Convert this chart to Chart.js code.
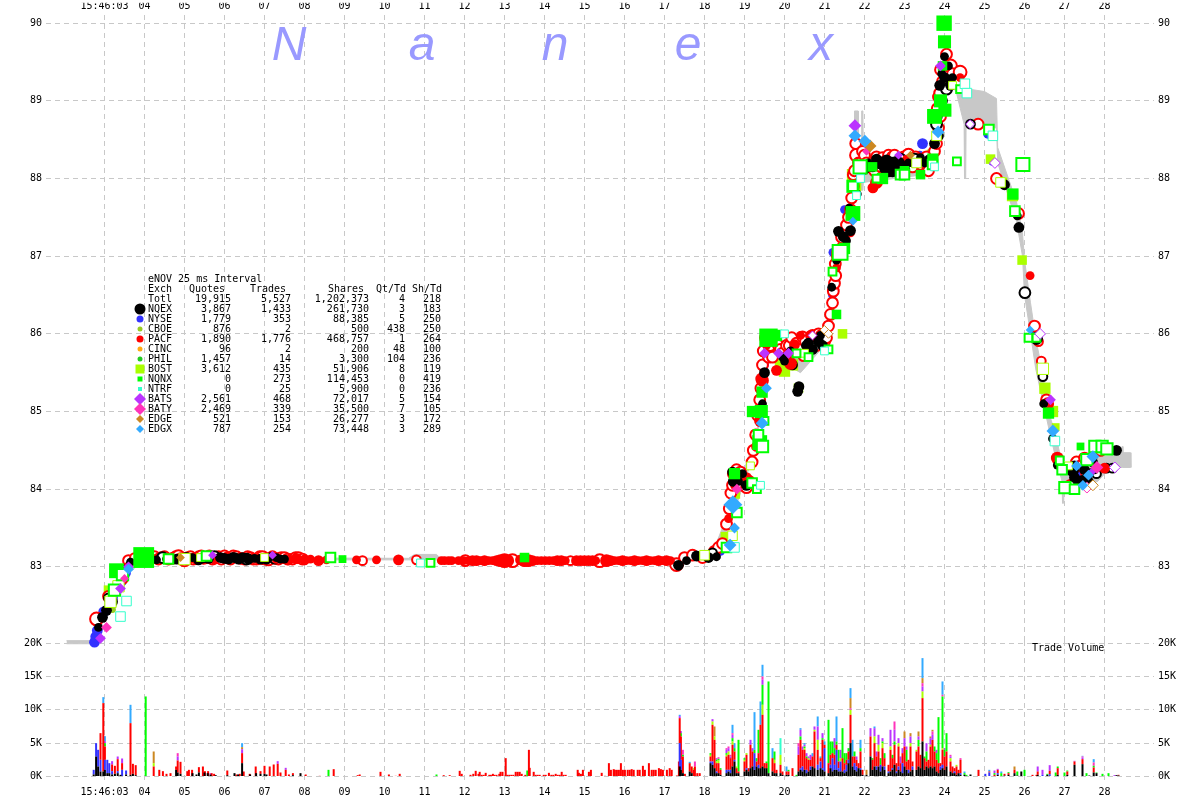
<!DOCTYPE html>
<html>
<head>
<meta charset="utf-8">
<style>
  html, body { margin: 0; padding: 0; background: #fff; }
  #wrap { position: relative; width: 1200px; height: 800px; overflow: hidden; }
  canvas { position: absolute; left: 0; top: 0; }
</style>
<script src="https://cdn.jsdelivr.net/npm/chart.js@4/dist/chart.umd.js"></script>
</head>
<body>
<div id="wrap">
  <canvas id="volumeChart" width="1200" height="800"></canvas>
  <canvas id="priceChart" width="1200" height="800"></canvas>
</div>
<script>
// axis ticks
const timeTicks = [3,4,5,6,7,8,9,10,11,12,13,14,15,16,17,18,19,20,21,22,23,24,25,26,27,28];
const timeLabels = ['15:46:03','04','05','06','07','08','09','10','11','12','13','14','15','16','17','18','19','20','21','22','23','24','25','26','27','28'];
const priceTicks = [83,84,85,86,87,88,89,90];
const volumeTicks = [0,5000,10000,15000,20000];

// summary table
const tableTitle = 'eNOV 25 ms Interval';
const tableHeads = ['Exch','Quotes','Trades','Shares','Qt/Td','Sh/Td'];
const exchNames = ['Totl','NQEX','NYSE','CBOE','PACF','CINC','PHIL','BOST','NQNX','NTRF','BATS','BATY','EDGE','EDGX'];
const exchQuotes = ['19,915','3,867','1,779','876','1,890','96','1,457','3,612','0','0','2,561','2,469','521','787'];
const exchTrades = ['5,527','1,433','353','2','1,776','2','14','435','273','25','468','339','153','254'];
const exchShares = ['1,202,373','261,730','88,385','500','468,757','200','3,300','51,906','114,453','5,900','72,017','35,500','26,277','73,448'];
const exchQtTd = ['4','3','5','438','1','48','104','8','0','0','5','7','3','3'];
const exchShTd = ['218','183','250','250','264','100','236','119','419','236','154','105','172','289'];

// NBBO band, [second, price]
const nbboAsk = [[2.05,82.05],[2.72,82.05],[3.0,82.4],[3.6,82.98],[4.0,83.12],[10.6,83.11],[10.75,83.16],[11.3,83.16],[11.4,83.11],[17.3,83.11],[18.2,83.18],[18.6,83.7],[19.3,84.7],[19.5,85.6],[19.55,85.9],[20.4,85.9],[21.0,86.0],[21.4,87.1],[21.74,88.1],[21.75,88.87],[21.84,88.87],[21.85,88.3],[21.92,88.3],[21.93,88.87],[21.96,88.87],[21.97,88.3],[23.5,88.3],[23.8,88.5],[24.0,89.6],[24.3,89.2],[24.5,89.16],[25.0,89.12],[25.3,89.03],[25.33,88.4],[25.8,87.7],[25.95,87.3],[26.0,86.95],[26.15,86.4],[26.28,85.95],[26.45,85.5],[26.6,85.0],[26.78,84.7],[26.95,84.3],[27.28,84.25],[27.83,84.42],[28.15,84.43],[28.45,84.55],[28.46,84.47],[28.65,84.47],[28.66,84.28]];
const nbboBid = [[2.05,82.01],[2.72,82.01],[3.0,82.35],[3.6,82.92],[4.0,83.09],[10.6,83.09],[10.75,83.09],[11.3,83.09],[11.4,83.09],[17.3,83.09],[18.2,83.14],[18.6,83.5],[19.3,84.55],[19.5,85.45],[19.55,85.75],[20.4,85.5],[21.0,85.85],[21.4,87.0],[21.74,87.95],[21.84,87.95],[21.85,87.95],[21.92,87.95],[21.93,87.85],[21.96,87.85],[21.97,87.95],[23.5,88.05],[23.8,88.4],[24.0,89.4],[24.3,89.1],[24.49,88.7],[24.5,88.0],[24.53,88.0],[24.54,88.7],[25.3,88.65],[25.33,88.2],[25.8,87.45],[25.95,87.0],[26.0,86.5],[26.15,86.0],[26.28,85.55],[26.45,85.15],[26.6,84.8],[26.78,84.4],[26.94,84.1],[26.95,83.82],[26.98,83.82],[26.99,84.1],[27.28,84.0],[27.83,84.1],[28.15,84.28],[28.45,84.28],[28.65,84.28],[28.66,84.28]];

// exchange prints, [second, price, size]
const nqexFilled = [[2.85,82.22,4],[2.95,82.35,9],[3.05,82.44,9],[3.2,82.55,9],[3.3,82.72,9],[3.42,82.84,4],[3.5,82.97,4],[3.65,83.06,4],[4.15,83.1,4],[4.3,83.09,4],[4.55,83.1,4],[4.8,83.1,9],[4.95,83.12,4],[5.2,83.12,4],[5.35,83.09,9],[5.45,83.1,4],[5.6,83.11,9],[5.9,83.12,9],[6.0,83.11,9],[6.1,83.1,9],[6.2,83.13,4],[6.25,83.12,9],[6.35,83.1,9],[6.45,83.12,9],[6.55,83.12,4],[6.6,83.1,9],[6.75,83.11,4],[6.9,83.1,9],[7.05,83.1,9],[7.15,83.13,4],[7.3,83.12,4],[7.4,83.1,4],[7.5,83.1,4],[17.35,83.02,9],[17.55,83.08,4],[17.8,83.14,9],[18.1,83.12,9],[18.3,83.13,4],[18.7,84.22,9],[18.72,84.1,9],[18.8,84.2,4],[18.85,84.1,4],[18.95,84.2,4],[19.05,84.05,9],[19.15,84.1,4],[19.38,84.55,4],[19.45,85.1,4],[19.5,85.5,9],[19.95,85.7,4],[20.0,85.65,4],[20.33,85.26,9],[20.36,85.32,9],[20.15,85.78,4],[20.55,85.85,9],[20.6,85.88,9],[20.7,85.8,9],[20.85,85.9,9],[20.9,85.98,4],[20.95,85.85,9],[21.18,86.6,4],[21.3,86.95,4],[21.35,87.32,9],[21.47,87.25,9],[21.55,87.2,4],[21.62,87.62,4],[21.65,87.33,9],[21.82,87.8,4],[21.95,88.13,9],[22.0,88.12,9],[22.1,88.2,4],[22.2,88.15,9],[22.3,88.25,9],[22.42,88.2,9],[22.5,88.13,9],[22.55,88.24,9],[22.6,88.1,16],[22.65,88.2,16],[22.7,88.1,16],[22.75,88.2,16],[22.8,88.12,16],[22.85,88.2,16],[22.9,88.1,9],[22.95,88.16,9],[23.0,88.12,9],[23.1,88.2,4],[23.2,88.2,4],[23.4,88.27,4],[23.5,88.2,4],[23.6,88.25,4],[23.75,88.45,9],[23.82,88.8,9],[23.85,88.55,9],[23.88,89.2,9],[23.93,89.35,4],[23.95,89.0,9],[24.0,89.57,4],[24.0,89.3,9],[24.1,89.45,4],[24.15,89.2,9],[24.2,89.3,4],[25.5,87.92,9],[25.86,87.37,9],[25.82,87.52,4],[26.3,85.94,16],[26.48,85.1,4],[26.7,84.65,4],[26.82,84.31,4],[27.2,84.24,16],[27.25,84.15,9],[27.25,84.3,9],[27.35,84.08,9],[27.45,84.1,16],[27.5,84.25,9],[27.6,84.2,9],[27.62,84.1,4],[27.7,84.35,9],[27.75,84.25,4],[28.3,84.5,9]];
const nqexHollow = [[3.1,82.6,4],[4.45,83.12,9],[5.05,83.11,9],[5.75,83.13,9],[6.55,83.1,9],[7.25,83.1,4],[18.2,83.18,4],[19.0,84.1,4],[20.2,85.6,4],[22.4,88.2,9],[22.9,88.25,9],[23.25,88.25,9],[23.8,88.7,9],[24.05,89.15,9],[24.65,88.7,4],[26.01,86.53,9],[26.46,85.45,4],[27.8,84.2,4],[28.05,84.27,4],[28.2,84.27,4]];
const nyseFilled = [[2.75,82.03,9],[2.78,82.1,9],[2.82,82.18,9],[2.98,82.42,9],[3.2,82.6,9],[3.3,82.68,4],[3.35,82.77,9],[3.43,82.82,9],[3.55,82.92,4],[17.3,83.0,4],[18.4,83.2,4],[19.0,84.05,4],[19.5,85.6,4],[21.2,86.5,4],[21.5,87.6,4],[21.21,87.05,4],[23.45,88.45,9],[23.38,88.3,4],[25.08,88.57,4],[25.2,88.22,4],[26.2,86.05,4],[27.3,84.2,4]];
const cboeFilled = [[3.2,82.45,1],[5.3,83.1,1],[19.5,85.8,1]];
const pacfFilled = [[2.95,82.35,4],[3.55,83.0,4],[4.6,83.11,9],[4.9,83.12,9],[5.1,83.1,9],[5.5,83.12,9],[5.75,83.1,9],[6.1,83.12,9],[6.85,83.1,9],[7.3,83.11,9],[7.6,83.09,9],[7.8,83.11,9],[8.0,83.09,9],[8.15,83.1,4],[8.35,83.08,9],[8.55,83.09,4],[9.3,83.09,4],[9.8,83.09,4],[10.35,83.09,9],[11.42,83.08,4],[11.5,83.08,4],[11.6,83.08,4],[11.68,83.08,4],[11.85,83.08,4],[11.98,83.08,4],[12.1,83.08,4],[12.2,83.08,9],[12.3,83.08,9],[12.4,83.08,4],[12.5,83.08,9],[12.6,83.08,4],[12.7,83.08,4],[12.8,83.08,9],[12.9,83.08,16],[13.0,83.08,25],[13.08,83.08,16],[13.4,83.09,9],[13.5,83.08,16],[13.6,83.08,16],[13.7,83.08,9],[13.82,83.08,4],[13.92,83.08,4],[14.02,83.08,4],[14.12,83.08,4],[14.22,83.08,4],[14.32,83.08,9],[14.42,83.08,9],[14.52,83.08,4],[14.8,83.08,9],[14.9,83.08,9],[15.0,83.08,9],[15.1,83.08,9],[15.2,83.08,9],[15.28,83.08,4],[15.55,83.08,16],[15.65,83.08,9],[15.75,83.08,4],[15.85,83.08,4],[15.95,83.08,9],[16.05,83.08,4],[16.15,83.08,4],[16.25,83.08,9],[16.35,83.08,4],[16.45,83.08,4],[16.55,83.08,9],[16.65,83.08,4],[16.75,83.08,4],[16.85,83.08,9],[16.95,83.08,4],[17.05,83.08,9],[17.15,83.08,4],[18.6,83.62,4],[18.75,84.05,4],[19.05,84.15,9],[19.35,84.66,9],[19.4,84.88,16],[19.43,85.42,16],[19.55,85.85,4],[19.8,85.53,9],[20.05,85.72,9],[20.15,85.62,16],[20.25,85.86,9],[20.4,85.98,4],[20.65,85.98,9],[21.3,86.85,4],[21.65,87.3,4],[22.3,87.95,16],[22.21,87.88,9],[23.05,88.25,4],[24.05,89.43,4],[24.39,89.3,4],[26.14,86.75,4],[26.58,85.1,16],[26.82,84.4,16],[27.72,84.42,4],[28.0,84.27,9]];
const pacfHollow = [[2.8,82.33,16],[3.1,82.62,9],[3.45,82.85,9],[3.6,83.08,9],[3.75,83.12,4],[4.05,83.11,9],[4.15,83.12,9],[4.25,83.13,9],[4.35,83.1,9],[4.42,83.12,9],[4.5,83.13,9],[4.6,83.1,9],[4.7,83.11,9],[4.78,83.13,9],[4.85,83.13,16],[4.93,83.1,9],[5.0,83.09,16],[5.08,83.12,9],[5.15,83.13,9],[5.22,83.1,9],[5.3,83.11,9],[5.36,83.13,9],[5.42,83.14,9],[5.48,83.11,9],[5.55,83.12,9],[5.62,83.14,9],[5.7,83.1,9],[5.78,83.12,9],[5.85,83.13,9],[5.92,83.1,9],[6.0,83.14,9],[6.08,83.12,9],[6.15,83.1,9],[6.22,83.14,9],[6.3,83.13,9],[6.4,83.11,9],[6.5,83.1,9],[6.58,83.13,9],[6.65,83.12,9],[6.72,83.1,9],[6.8,83.1,9],[6.88,83.13,9],[6.95,83.12,16],[7.02,83.1,9],[7.1,83.09,9],[7.2,83.13,9],[7.28,83.11,9],[7.35,83.1,9],[7.42,83.12,9],[7.5,83.12,9],[7.58,83.1,9],[7.7,83.1,9],[7.78,83.12,9],[7.85,83.12,9],[7.95,83.1,9],[9.45,83.08,4],[10.8,83.09,4],[12.02,83.08,9],[13.2,83.08,16],[14.65,83.08,4],[15.38,83.08,16],[17.3,83.03,16],[17.5,83.12,9],[17.7,83.15,9],[17.95,83.12,9],[18.25,83.2,9],[18.35,83.25,9],[18.45,83.3,9],[18.55,83.55,9],[18.62,83.75,9],[18.66,83.95,9],[18.7,84.05,9],[18.72,84.2,9],[18.8,84.25,9],[18.85,84.15,9],[18.9,84.22,9],[18.95,84.05,9],[19.05,84.02,9],[19.12,84.1,9],[19.19,84.35,9],[19.22,84.5,9],[19.28,84.7,9],[19.3,84.55,4],[19.33,84.95,9],[19.38,85.15,9],[19.41,85.3,9],[19.45,85.4,9],[19.45,85.6,9],[19.47,85.78,9],[19.55,85.95,16],[19.6,85.7,9],[19.65,85.85,9],[19.7,85.7,9],[19.75,85.95,9],[19.85,85.85,9],[19.9,85.8,9],[19.95,85.75,9],[20.05,85.85,9],[20.12,85.85,9],[20.18,85.95,9],[20.3,85.88,9],[20.38,85.8,9],[20.45,85.96,9],[20.48,85.72,9],[20.55,85.9,16],[20.62,85.82,9],[20.7,85.98,9],[20.75,85.95,9],[20.8,85.85,9],[20.85,86.0,9],[20.92,85.98,9],[21.0,85.9,9],[21.05,85.95,9],[21.1,86.1,9],[21.15,86.25,9],[21.2,86.4,9],[21.22,86.55,9],[21.25,86.65,9],[21.28,86.75,9],[21.27,86.9,9],[21.32,87.0,9],[21.35,87.05,16],[21.42,87.1,9],[21.45,87.25,16],[21.5,87.3,9],[21.55,87.4,9],[21.6,87.5,9],[21.65,87.6,9],[21.68,87.75,9],[21.72,87.9,9],[21.72,88.05,9],[21.75,88.1,9],[21.8,88.3,16],[21.78,88.45,9],[21.85,88.2,9],[21.9,88.2,9],[21.95,88.35,9],[22.0,88.3,9],[22.05,88.2,9],[22.15,88.15,9],[22.2,88.2,9],[22.25,88.1,9],[22.3,88.28,9],[22.35,88.2,9],[22.42,88.15,9],[22.45,88.27,9],[22.52,88.22,9],[22.6,88.3,9],[22.65,88.15,9],[22.7,88.28,9],[22.75,88.3,9],[22.82,88.15,9],[22.9,88.22,9],[22.98,88.28,9],[23.05,88.15,9],[23.1,88.3,16],[23.15,88.22,9],[23.2,88.15,9],[23.28,88.28,9],[23.35,88.25,9],[23.42,88.18,9],[23.5,88.2,9],[23.55,88.28,9],[23.6,88.1,9],[23.65,88.22,9],[23.75,88.35,9],[23.8,88.45,9],[23.85,88.65,9],[23.9,88.8,9],[23.82,88.9,9],[23.85,89.05,9],[23.88,89.1,9],[23.95,89.25,9],[23.9,89.4,9],[24.0,89.4,9],[24.05,89.6,9],[24.1,89.2,9],[24.15,89.45,16],[24.2,89.35,9],[24.25,89.25,9],[24.3,89.25,9],[24.39,89.37,16],[24.84,88.7,9],[25.3,88.0,9],[25.85,87.55,9],[26.25,86.1,9],[26.35,85.9,4],[26.42,85.65,4],[26.55,85.15,9],[27.15,84.05,9],[27.3,84.35,9],[27.4,84.3,9],[27.5,84.4,9],[27.55,84.2,9],[27.65,84.25,9],[27.9,84.5,9]];
const bostFilled = [[3.1,82.7,9],[3.4,82.9,4],[18.5,83.4,4],[18.75,83.95,16],[18.9,84.15,9],[19.65,85.75,16],[19.9,85.65,16],[20.0,85.52,16],[20.2,85.6,16],[20.35,85.3,9],[21.45,86.0,9],[21.7,88.05,16],[21.8,87.9,9],[22.0,88.15,9],[22.8,88.25,4],[23.7,88.3,16],[23.85,88.6,9],[23.9,89.0,4],[25.15,88.25,9],[25.45,87.95,9],[25.7,87.78,16],[25.94,86.95,9],[26.51,85.3,16],[26.7,85.0,16],[26.78,84.8,4]];
const bostHollow = [[3.15,82.55,16],[3.35,82.75,16],[5.0,83.1,16],[5.4,83.12,4],[7.0,83.12,4],[18.0,83.15,9],[18.7,83.4,9],[19.15,84.3,4],[20.5,85.75,4],[23.3,88.2,9],[23.8,88.55,9],[24.2,89.2,4],[25.4,87.95,9],[26.46,85.55,16],[27.1,84.3,4]];
const nqnxFilled = [[3.3,82.95,36],[3.98,83.12,88],[8.95,83.1,4],[13.5,83.12,9],[18.75,84.2,16],[19.2,85.0,16],[19.38,84.6,36],[19.42,85.0,25],[19.44,85.25,16],[19.6,85.95,64],[19.8,85.98,16],[21.3,86.25,9],[21.5,87.1,16],[21.71,87.55,36],[21.71,87.9,25],[22.2,88.15,9],[22.45,88.0,16],[23.0,88.1,9],[23.4,88.05,9],[23.71,88.25,16],[23.75,88.8,36],[23.9,89.0,25],[24.01,88.88,25],[23.95,89.45,9],[24.0,89.76,25],[23.99,90.0,40],[25.71,87.8,16],[26.6,84.98,16],[27.4,84.55,4]];
const nqnxHollow = [[3.25,82.7,16],[3.45,82.9,16],[4.6,83.1,9],[5.55,83.14,9],[8.65,83.12,9],[11.15,83.05,4],[18.55,83.25,9],[18.81,83.7,9],[19.19,84.08,9],[19.31,84.0,4],[19.45,84.55,16],[19.35,84.7,9],[19.5,84.88,4],[20.3,85.75,4],[20.6,85.7,4],[21.2,86.8,4],[21.1,85.8,4],[21.39,87.05,36],[21.71,87.9,9],[21.89,88.15,25],[22.3,88.0,4],[22.9,88.05,9],[23.0,88.05,9],[23.7,88.18,9],[24.31,88.22,4],[24.39,89.15,4],[25.11,88.63,9],[25.96,88.18,25],[25.76,87.58,9],[26.1,85.95,4],[26.3,85.95,4],[26.88,84.37,4],[26.94,84.25,9],[27.01,84.02,16],[27.25,84.0,9],[27.56,84.38,16],[27.76,84.55,16],[27.94,84.55,16],[28.06,84.52,16]];
const ntrfHollow = [[3.55,82.56,9],[3.4,82.36,9],[19.4,84.05,4],[18.75,83.25,9],[20.0,86.0,4],[21.0,85.78,4],[21.8,87.78,4],[23.75,88.15,4],[24.51,89.22,9],[24.56,89.1,9],[25.21,88.55,9],[26.76,84.62,9],[10.9,83.05,4],[21.9,88.0,4]];
const batsFilled = [[2.9,82.08,9],[3.4,82.72,9],[3.6,83.0,9],[5.7,83.15,4],[7.2,83.15,4],[19.5,85.75,9],[19.85,85.75,9],[20.1,85.75,9],[21.76,88.68,16],[22.85,88.3,4],[23.9,89.45,9],[26.65,85.15,9],[27.7,84.23,4]];
const batsHollow = [[24.64,88.7,4],[25.26,88.2,9],[26.39,86.0,9],[28.26,84.28,9],[20.7,85.98,4]];
const batyFilled = [[3.05,82.22,9],[3.5,82.85,4],[18.81,84.0,9],[27.81,84.28,16],[22.05,88.35,4]];
const batyHollow = [[27.56,84.02,9]];
const edgeFilled = [[22.14,88.42,16],[4.9,83.12,4],[23.15,88.3,4]];
const edgeHollow = [[27.71,84.05,9],[21.0,86.05,4],[21.1,86.0,4]];
const edgxFilled = [[3.6,82.97,9],[18.64,83.28,16],[18.71,83.8,49],[18.75,83.5,9],[19.44,84.85,16],[21.76,88.55,16],[21.71,87.45,4],[22.01,88.48,16],[23.84,88.6,16],[26.14,86.05,4],[26.71,84.75,16],[27.46,84.05,9],[27.71,84.42,16],[27.3,84.3,9],[27.6,84.18,9],[19.55,85.3,9]];

// trade volume, [second, shares]
const volNqex = [[2.73,300],[2.79,3000],[2.84,1500],[2.9,750],[2.97,750],[3.01,1000],[3.07,500],[3.12,500],[3.19,300],[3.26,400],[3.33,500],[3.4,250],[3.54,300],[3.65,250],[3.71,400],[3.78,200],[4.79,1000],[4.83,600],[4.9,400],[5.2,500],[5.3,300],[5.36,600],[5.5,600],[5.58,500],[5.65,300],[5.78,200],[6.07,200],[6.25,500],[6.34,300],[6.44,2000],[6.64,300],[6.79,500],[6.9,400],[7,400],[7.05,300],[7.71,200],[7.9,500],[17.38,1500],[17.41,1000],[17.46,500],[17.63,750],[17.68,500],[18.15,2000],[18.2,1750],[18.25,1250],[18.3,500],[18.35,500],[18.4,250],[18.55,500],[18.6,750],[18.65,500],[18.7,1500],[18.75,2250],[18.8,500],[18.85,500],[19,750],[19.05,1000],[19.1,750],[19.15,1250],[19.2,1500],[19.25,1000],[19.3,1500],[19.35,1250],[19.4,1250],[19.45,1500],[19.5,1250],[19.55,1250],[19.6,500],[19.7,750],[19.75,500],[19.8,500],[19.9,500],[19.95,250],[20.05,250],[20.1,250],[20.35,750],[20.4,1000],[20.45,750],[20.5,1000],[20.55,500],[20.6,750],[20.65,1000],[20.7,1500],[20.75,1250],[20.83,1000],[20.9,1250],[20.95,1000],[21,750],[21.1,500],[21.15,1250],[21.2,750],[21.25,1000],[21.3,1000],[21.35,750],[21.4,750],[21.45,750],[21.5,500],[21.55,750],[21.6,2000],[21.65,5000],[21.7,1500],[21.75,1000],[21.8,750],[21.85,1250],[21.9,1000],[21.95,250],[22.05,250],[22.15,3000],[22.2,1000],[22.25,1500],[22.3,1000],[22.35,1500],[22.4,750],[22.45,1500],[22.5,1000],[22.6,500],[22.65,750],[22.7,1000],[22.75,1750],[22.8,500],[22.85,1000],[22.9,750],[22.95,500],[23,1500],[23.05,1000],[23.1,500],[23.15,750],[23.2,1000],[23.3,1000],[23.35,1500],[23.4,1250],[23.45,5250],[23.5,1000],[23.55,1500],[23.6,1250],[23.65,1500],[23.7,1250],[23.75,1500],[23.8,750],[23.85,500],[23.9,1000],[23.95,1250],[24,1000],[24.05,1500],[24.15,750],[24.2,500],[24.25,500],[24.3,250],[24.35,500],[24.4,250],[24.5,250],[24.65,300],[25.33,250],[25.5,150],[25.6,250],[25.75,500],[25.82,150],[25.92,750],[26.33,250],[26.57,250],[26.63,100],[26.83,250],[27.07,250],[27.25,1750],[27.45,1850],[27.62,150],[27.73,600],[27.8,500],[28.3,200],[28.35,150]];
const volNyse = [[2.73,700],[2.79,2000],[2.84,2500],[2.9,1750],[3.01,1500],[3.07,2000],[3.12,1500],[3.19,500],[3.33,300],[3.44,1000],[3.54,600],[17.38,3500],[17.41,1500],[18.15,250],[18.2,500],[18.3,250],[18.55,500],[18.6,250],[18.65,500],[18.75,250],[19.05,250],[19.25,2500],[19.35,500],[20.4,250],[20.45,750],[20.55,500],[20.65,500],[20.83,750],[20.9,1000],[20.95,250],[21,3500],[21.15,500],[21.2,2000],[21.25,750],[21.3,3000],[21.35,500],[21.4,1500],[21.5,500],[21.55,1000],[21.6,500],[21.75,1000],[21.8,750],[21.9,250],[22.3,500],[22.4,1000],[22.5,500],[22.6,250],[22.7,250],[22.8,250],[22.85,500],[22.95,1500],[23.1,500],[23.2,500],[23.9,500],[23.95,500],[24.25,250],[24.4,250],[25.02,400],[25.12,600],[25.33,250],[26.45,250],[26.63,250]];
const volPacf = [[2.9,4000],[2.97,10250],[3.01,2000],[3.19,1000],[3.26,1200],[3.33,1800],[3.44,1000],[3.65,7750],[3.71,1500],[3.78,1500],[4.23,1500],[4.37,1000],[4.46,800],[4.55,400],[4.65,500],[4.79,500],[4.83,1800],[4.9,1800],[5.07,800],[5.11,1000],[5.19,1000],[5.36,800],[5.46,1500],[5.51,800],[5.59,800],[5.68,500],[5.74,400],[6.07,700],[6.3,300],[6.38,400],[6.44,1500],[6.48,750],[6.63,400],[6.78,1500],[6.9,400],[7,1200],[7.13,1500],[7.23,1800],[7.33,1900],[7.4,600],[7.53,1000],[7.61,300],[7.71,300],[8.03,300],[8.38,100],[8.73,1100],[9.33,200],[9.38,300],[9.9,700],[10.11,300],[10.28,100],[10.38,400],[11.48,200],[11.63,200],[11.88,850],[11.93,400],[12.15,250],[12.22,400],[12.28,850],[12.35,400],[12.38,700],[12.43,250],[12.48,250],[12.53,550],[12.62,250],[12.66,250],[12.71,400],[12.75,250],[12.8,250],[12.87,400],[12.9,700],[12.95,700],[13.03,2750],[13.07,250],[13.12,250],[13.17,250],[13.22,250],[13.28,700],[13.33,700],[13.38,700],[13.43,400],[13.52,250],[13.61,4000],[13.63,1300],[13.73,700],[13.78,250],[13.83,250],[13.88,250],[13.98,250],[14.03,250],[14.11,550],[14.17,250],[14.22,250],[14.28,400],[14.33,250],[14.38,250],[14.43,700],[14.48,250],[14.53,250],[14.83,1000],[14.86,550],[14.91,400],[14.96,1000],[15.11,700],[15.16,1000],[15.43,550],[15.51,100],[15.61,2000],[15.66,1000],[15.73,1100],[15.76,1000],[15.81,1000],[15.86,1000],[15.91,2000],[15.96,1000],[16.01,1000],[16.08,1000],[16.13,1000],[16.18,1100],[16.23,1000],[16.33,1000],[16.38,1000],[16.46,1600],[16.51,1000],[16.61,2000],[16.68,1000],[16.73,1000],[16.78,1000],[16.86,1250],[16.91,1100],[16.96,1000],[17.06,1000],[17.13,1250],[17.18,1000],[17.31,150],[17.36,2250],[17.38,3750],[17.41,3500],[17.46,2500],[17.51,400],[17.63,1250],[17.68,1000],[17.73,1000],[17.76,1500],[17.82,500],[17.88,500],[18.15,750],[18.2,5500],[18.25,4250],[18.3,1250],[18.35,1500],[18.4,750],[18.55,2000],[18.6,2250],[18.65,1750],[18.7,3250],[18.75,1250],[18.8,750],[18.85,250],[19,1500],[19.05,2000],[19.1,500],[19.15,3500],[19.2,2250],[19.3,750],[19.35,1750],[19.4,6500],[19.45,7750],[19.5,750],[19.55,750],[19.7,2000],[19.75,1500],[19.8,500],[19.9,1250],[19.95,500],[20.05,500],[20.1,500],[20.2,1250],[20.35,2500],[20.4,4250],[20.45,2500],[20.5,3000],[20.55,1750],[20.6,1750],[20.65,1000],[20.7,1500],[20.75,5500],[20.83,2250],[20.9,500],[20.95,4250],[21,500],[21.1,1500],[21.15,1500],[21.2,750],[21.25,1500],[21.3,750],[21.35,1000],[21.45,2000],[21.5,1000],[21.55,750],[21.6,1250],[21.65,4250],[21.7,1500],[21.75,1000],[21.8,1000],[21.85,750],[21.9,2500],[21.95,750],[22.15,3000],[22.2,1500],[22.25,3500],[22.3,1500],[22.35,2250],[22.45,2750],[22.5,1250],[22.6,1000],[22.65,3250],[22.7,1500],[22.75,3000],[22.8,1250],[22.85,3000],[22.9,1250],[22.95,1500],[23,3000],[23.05,1250],[23.1,1500],[23.15,3750],[23.2,750],[23.3,2750],[23.35,3000],[23.4,2000],[23.45,6500],[23.5,1750],[23.55,750],[23.6,1250],[23.65,3000],[23.7,4250],[23.75,2250],[23.8,1750],[23.85,1500],[23.9,500],[23.95,2250],[24,2000],[24.05,2250],[24.15,1500],[24.2,1000],[24.25,500],[24.3,1250],[24.35,500],[24.4,2000],[24.85,1000],[25.12,150],[25.25,250],[25.33,500],[25.5,250],[25.6,250],[25.75,500],[26.2,250],[26.3,250],[26.33,500],[26.63,500],[26.83,1000],[27.07,500],[27.25,500],[27.45,750],[27.73,750],[28.35,100]];
const volBost = [[4.23,500],[18.15,250],[18.2,500],[18.25,500],[18.3,250],[18.35,400],[18.55,250],[18.6,500],[18.7,500],[18.8,250],[19,250],[19.05,250],[19.45,1500],[19.75,500],[19.9,1500],[20.5,250],[20.6,250],[20.75,250],[20.83,1500],[21.4,500],[21.65,750],[22.25,1000],[22.35,1000],[22.45,750],[22.65,500],[22.85,500],[23.15,500],[23.3,250],[23.45,1000],[23.65,250],[23.95,250],[24.15,500],[24.3,250],[17.73,250]];
const volNqnx = [[3.01,500],[4.03,12000],[8.6,1000],[11.3,300],[13.57,900],[17.41,500],[17.46,250],[18.15,250],[18.3,250],[18.35,250],[18.4,250],[18.55,250],[18.7,500],[18.75,500],[18.85,4750],[19,250],[19.25,500],[19.3,500],[19.35,3500],[19.45,3000],[19.55,250],[19.6,13750],[19.75,1250],[20.1,250],[20.3,250],[20.4,500],[20.5,250],[20.55,250],[20.95,250],[21.1,6500],[21.15,2000],[21.2,1750],[21.25,1000],[21.3,500],[21.35,1750],[21.45,4500],[21.5,1500],[21.55,1000],[21.6,500],[21.75,750],[21.9,500],[22.2,250],[22.4,1000],[22.45,250],[22.5,750],[22.7,500],[22.75,500],[23.05,1750],[23.35,1000],[23.5,250],[23.55,1500],[23.75,750],[23.8,1000],[23.85,6900],[23.95,7750],[24,1000],[24.05,2750],[24.5,250],[24.55,250],[25.25,250],[25.42,500],[25.6,150],[25.82,600],[26,1000],[26.57,150],[26.78,600],[26.83,250],[27,600],[27.07,150],[27.55,500],[27.73,250],[27.8,100],[27.95,400],[28.1,500]];
const volNtrf = [[19.9,2500]];
const volBats = [[3.01,300],[3.19,500],[3.33,400],[3.44,700],[4.83,600],[5.65,200],[6.44,600],[7.33,400],[7.53,300],[18.2,350],[18.3,250],[18.55,500],[18.6,500],[18.65,250],[18.7,500],[19.15,750],[19.2,500],[19.45,750],[20.35,1250],[20.4,1000],[20.45,500],[20.5,250],[20.55,500],[20.6,250],[20.65,750],[20.75,500],[20.83,2000],[20.95,750],[21.25,1500],[21.4,1250],[21.8,500],[22.15,1250],[22.25,1250],[22.3,750],[22.35,1500],[22.45,500],[22.65,2500],[22.75,1750],[22.85,750],[22.9,1000],[22.95,750],[23,1250],[23.05,500],[23.15,1000],[23.35,500],[23.45,750],[23.55,1250],[23.65,1000],[23.7,750],[23.8,500],[24,250],[24.15,250],[25.25,400],[25.33,150],[26.33,750],[26.45,750],[26.63,850],[27.25,100],[27.45,250],[28.25,200],[17.38,300],[17.41,300]];
const volBaty = [[4.83,500],[18.35,250],[18.55,250],[18.6,250],[18.65,250],[18.7,250],[19.45,500],[20.35,500],[21.65,250],[22.75,1250],[23.45,500],[23.7,500],[23.95,250],[24.15,250],[24.4,250],[17.46,750],[17.76,750],[27.45,150],[27.73,500]];
const volEdge = [[4.23,1750],[6.44,300],[18.25,1500],[21.65,1500],[22.05,750],[23,1000],[23.15,500],[23.35,750],[23.45,750],[23.65,250],[23.7,250],[25.75,500]];
const volEdgx = [[2.97,900],[3.01,750],[3.65,2750],[6.44,600],[17.38,200],[17.63,200],[18.7,1250],[18.75,750],[19.25,5650],[19.4,3500],[19.45,1750],[19.7,1500],[20.05,750],[20.4,250],[20.5,250],[20.7,500],[20.83,1500],[20.9,250],[21,500],[21.3,3750],[21.65,1500],[21.7,2500],[21.9,1250],[22.25,250],[23.45,3000],[23.95,2000],[24.5,250],[25.12,250],[25.42,250],[27.45,100],[27.73,500]];

// looks per exchange
const colors = { NQEX:'#000000', NYSE:'#3333ff', CBOE:'#99cc22', PACF:'#ff0000', CINC:'#ffaa11', PHIL:'#22cc22', BOST:'#aaff00', NQNX:'#00ff00', NTRF:'#33ffcc', BATS:'#bb33ff', BATY:'#ff33bb', EDGE:'#cc8822', EDGX:'#33aaff' };
const monoFont = '"DejaVu Sans Mono", monospace';
const gridGrey = '#c8c8c8';

function markerRadius(size, style) {
    const r = 2.4 + Math.sqrt(size);
    return style === 'rect' ? r * 1.25 : r;
}

function markers(points, exch, style, hollow, lineWidth) {
    return {
        type: 'scatter',
        data: points.map(p => ({x: p[0], y: p[1]})),
        pointStyle: style,
        pointRadius: points.map(p => markerRadius(p[2], style)),
        pointBackgroundColor: hollow ? '#ffffff' : colors[exch],
        pointBorderColor: colors[exch],
        pointBorderWidth: hollow ? lineWidth : 0,
        clip: false
    };
}

function band(points, fill) {
    return {
        type: 'line',
        data: points.map(p => ({x: p[0], y: p[1]})),
        borderColor: gridGrey,
        backgroundColor: gridGrey,
        borderWidth: 1,
        pointRadius: 0,
        tension: 0,
        fill: fill,
        clip: false,
        order: 50
    };
}

function volumeSet(points, exch) {
    return {
        data: points.map(p => ({x: p[0], y: p[1]})),
        backgroundColor: colors[exch],
        barThickness: 2,
        inflateAmount: 0
    };
}

function timeAxis(position, pad) {
    return {
        type: 'linear',
        position: position,
        min: 1.5375,
        max: 29.2375,
        offset: false,
        stacked: position === 'bottom',
        afterBuildTicks: s => { s.ticks = timeTicks.map(v => ({value: v})); },
        afterFit: s => { s.height = position === 'top' ? 12 : 20; },
        grid: {color: gridGrey, drawTicks: false, offset: false},
        border: {display: false, dash: [5, 4]},
        ticks: {
            autoSkip: false, maxRotation: 0, padding: pad, color: '#000',
            font: {family: monoFont, size: 10},
            callback: v => timeLabels[timeTicks.indexOf(v)]
        }
    };
}

function valueAxis(position, min, max, tickValues, fmt, stacked) {
    return {
        type: 'linear',
        position: position,
        min: min,
        max: max,
        stacked: stacked,
        afterBuildTicks: s => { s.ticks = tickValues.map(v => ({value: v})); },
        afterFit: s => { s.width = 46; },
        grid: {color: gridGrey, drawTicks: false, drawOnChartArea: position === 'left'},
        border: {display: false, dash: [5, 4]},
        ticks: {padding: 4, color: '#000', font: {family: monoFont, size: 10}, callback: fmt}
    };
}

// text and table that the chart library has no element for
const overlay = {
    id: 'overlay',
    afterDraw(chart) {
        const ctx = chart.ctx;
        ctx.save();
        ctx.fillStyle = '#9999ff';
        ctx.font = 'italic 48px "Liberation Sans", sans-serif';
        ctx.textAlign = 'center';
        ctx.textBaseline = 'alphabetic';
        ['N','a','n','e','x'].forEach((c, i) => ctx.fillText(c, 289 + i * 133, 60));

        ctx.fillStyle = '#000';
        ctx.font = '10px ' + monoFont;
        ctx.textBaseline = 'middle';
        ctx.textAlign = 'left';
        ctx.fillText('Trade Volume', 1032, 648);
        ctx.fillText(tableTitle, 148, 279);
        [148, 189, 250, 328, 376, 412].forEach((x, i) => ctx.fillText(tableHeads[i], x, 289));
        exchNames.forEach((name, i) => {
            const y = 299 + i * 10;
            ctx.textAlign = 'left';
            ctx.fillStyle = '#000';
            ctx.fillText(name, 148, y);
            ctx.textAlign = 'right';
            ctx.fillText(exchQuotes[i], 231, y);
            ctx.fillText(exchTrades[i], 291, y);
            ctx.fillText(exchShares[i], 369, y);
            ctx.fillText(exchQtTd[i], 405, y);
            ctx.fillText(exchShTd[i], 441, y);
            if (colors[name]) legendMark(ctx, name, 140, y);
        });
        ctx.restore();
    }
};

function legendMark(ctx, name, x, y) {
    const r = {NQEX:5.5, NYSE:3.5, CBOE:2.5, PACF:3.5, CINC:2.5, PHIL:2.5, BOST:4.5, NQNX:2.5, NTRF:2, BATS:6, BATY:6, EDGE:4, EDGX:4}[name];
    ctx.fillStyle = colors[name];
    ctx.beginPath();
    if (['BOST','NQNX','NTRF'].includes(name)) {
        ctx.rect(x - r, y - r, 2 * r, 2 * r);
    } else if (['BATS','BATY','EDGE','EDGX'].includes(name)) {
        ctx.moveTo(x, y - r); ctx.lineTo(x + r, y); ctx.lineTo(x, y + r); ctx.lineTo(x - r, y); ctx.closePath();
    } else {
        ctx.arc(x, y, r, 0, Math.PI * 2);
    }
    ctx.fill();
}

const quiet = {legend: {display: false}, tooltip: {enabled: false}, title: {display: false}};

new Chart(document.getElementById('priceChart'), {
    type: 'scatter',
    data: {datasets: [
        markers(edgxFilled, 'EDGX', 'rectRot'),
        markers(edgeFilled, 'EDGE', 'rectRot'),
        markers(edgeHollow, 'EDGE', 'rectRot', true, 1),
        markers(batyFilled, 'BATY', 'rectRot'),
        markers(batyHollow, 'BATY', 'rectRot', true, 1),
        markers(batsFilled, 'BATS', 'rectRot'),
        markers(batsHollow, 'BATS', 'rectRot', true, 1),
        markers(ntrfHollow, 'NTRF', 'rect', true, 1),
        markers(nqnxHollow, 'NQNX', 'rect', true, 2),
        markers(bostHollow, 'BOST', 'rect', true, 1),
        markers(nqnxFilled, 'NQNX', 'rect'),
        markers(nqexFilled, 'NQEX', 'circle'),
        markers(pacfFilled, 'PACF', 'circle'),
        markers(nqexHollow, 'NQEX', 'circle', true, 2),
        markers(pacfHollow, 'PACF', 'circle', true, 2),
        markers(bostFilled, 'BOST', 'rect'),
        markers(nyseFilled, 'NYSE', 'circle'),
        markers(cboeFilled, 'CBOE', 'circle'),
        band(nbboAsk, '+1'),
        band(nbboBid, false)
    ]},
    options: {
        responsive: false,
        devicePixelRatio: 1,
        animation: false,
        events: [],
        layout: {padding: {bottom: 154}},
        plugins: quiet,
        scales: {
            x: timeAxis('top', 2),
            y: valueAxis('left', 81.981, 90.109, priceTicks, v => String(v), false),
            yRight: valueAxis('right', 81.981, 90.109, priceTicks, v => String(v), false)
        }
    },
    plugins: [overlay]
});

new Chart(document.getElementById('volumeChart'), {
    type: 'bar',
    data: {datasets: [
        volumeSet(volNqex, 'NQEX'),
        volumeSet(volNyse, 'NYSE'),
        volumeSet(volPacf, 'PACF'),
        volumeSet(volBost, 'BOST'),
        volumeSet(volNqnx, 'NQNX'),
        volumeSet(volNtrf, 'NTRF'),
        volumeSet(volBats, 'BATS'),
        volumeSet(volBaty, 'BATY'),
        volumeSet(volEdge, 'EDGE'),
        volumeSet(volEdgx, 'EDGX')
    ]},
    options: {
        responsive: false,
        devicePixelRatio: 1,
        animation: false,
        events: [],
        layout: {padding: {top: 640}},
        plugins: quiet,
        scales: {
            x: timeAxis('bottom', 6),
            y: valueAxis('left', -525, 20465, volumeTicks, v => (v / 1000) + 'K', true),
            yRight: valueAxis('right', -525, 20465, volumeTicks, v => (v / 1000) + 'K', true)
        }
    }
});
</script>
</body>
</html>
